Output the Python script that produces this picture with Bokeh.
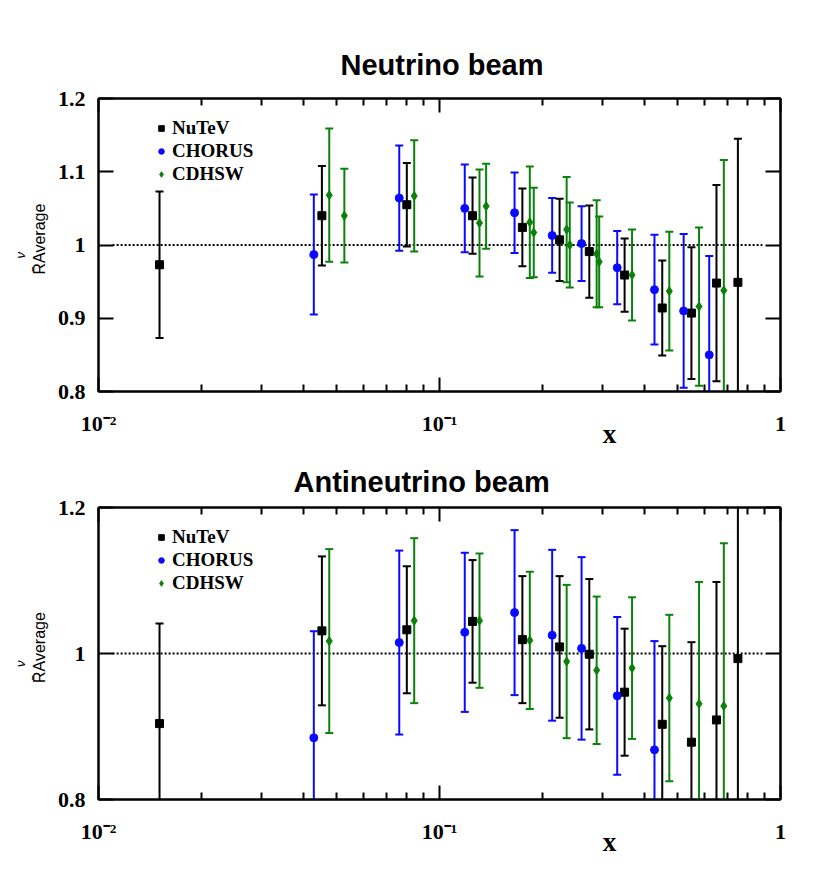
import numpy as np
from bokeh.plotting import figure
from bokeh.models import (Legend, LegendItem, LinearAxis, LogAxis, FixedTicker, Title,
                          ColumnDataSource, CustomJSTickFormatter, Range1d)
from bokeh.layouts import column
from bokeh.embed import file_html
from bokeh.resources import INLINE

SERIF = "Liberation Serif"
SANS = "Liberation Sans"

# ---------------- data: neutrino beam ----------------
nutev_nu_x = [0.0151, 0.0452, 0.0802, 0.125, 0.175, 0.225, 0.275, 0.349, 0.450, 0.548, 0.649, 0.750]
nutev_nu_y = [0.973, 1.040, 1.055, 1.040, 1.024, 1.007, 0.991, 0.959, 0.914, 0.907, 0.948, 0.949]
nutev_nu_e = [0.100, 0.068, 0.057, 0.052, 0.053, 0.056, 0.063, 0.050, 0.065, 0.090, 0.134, 0.196]

chorus_nu_x = [0.0428, 0.0762, 0.1186, 0.166, 0.214, 0.261, 0.332, 0.427, 0.520, 0.618]
chorus_nu_y = [0.987, 1.064, 1.050, 1.044, 1.013, 1.002, 0.969, 0.939, 0.910, 0.850]
chorus_nu_e = [0.082, 0.072, 0.060, 0.055, 0.051, 0.051, 0.050, 0.075, 0.105, 0.135]

cdhsw_nu_x = [0.0475, 0.0526, 0.0843, 0.131, 0.137, 0.184, 0.189, 0.236, 0.241, 0.289,
              0.294, 0.367, 0.472, 0.577, 0.682]
cdhsw_nu_y = [1.068, 1.040, 1.067, 1.030, 1.053, 1.031, 1.017, 1.021, 1.000, 0.988,
              0.977, 0.959, 0.937, 0.916, 0.938]
cdhsw_nu_e = [0.091, 0.064, 0.076, 0.073, 0.058, 0.076, 0.061, 0.072, 0.058, 0.073,
              0.062, 0.062, 0.081, 0.108, 0.178]

# ---------------- data: antineutrino beam ----------------
nutev_nb_x = [0.0151, 0.0452, 0.0802, 0.125, 0.175, 0.225, 0.275, 0.349, 0.450, 0.548, 0.649, 0.750]
nutev_nb_y = [0.904, 1.031, 1.0325, 1.044, 1.019, 1.009, 0.999, 0.947, 0.903, 0.8785, 0.909, 0.993]
nutev_nb_e = [0.137, 0.102, 0.087, 0.084, 0.087, 0.097, 0.103, 0.087, 0.107, 0.137, 0.189, 0.300]

chorus_nb_x = [0.0428, 0.0762, 0.1186, 0.166, 0.214, 0.261, 0.332, 0.427]
chorus_nb_y = [0.8845, 1.015, 1.029, 1.056, 1.025, 1.007, 0.942, 0.868]
chorus_nb_e = [0.146, 0.126, 0.109, 0.113, 0.117, 0.125, 0.108, 0.149]

cdhsw_nb_x = [0.0475, 0.0843, 0.131, 0.184, 0.236, 0.289, 0.367, 0.472, 0.577, 0.682]
cdhsw_nb_y = [1.017, 1.045, 1.045, 1.018, 0.989, 0.977, 0.980, 0.939, 0.931, 0.928]
cdhsw_nb_e = [0.126, 0.113, 0.092, 0.094, 0.105, 0.101, 0.097, 0.114, 0.167, 0.223]

series_names = ["NuTeV", "CHORUS", "CDHSW"]
series_colors = ["black", "#0a0aff", "#0a820a"]
series_markers = ["square", "circle", "diamond"]
series_sizes = [8, 8, 9]

x_major = [0.01, 0.1, 1.0]
x_major_labels = ["10\u207b\u00b2", "10\u207b\u00b9", "1"]
x_minor = [d * k for d in (0.01, 0.1) for k in range(2, 10)]
ref_line_x = [0.011, 0.885]

x_title = "x"
x_title_pos = 0.315          # where the "x" axis title sits along the axis
y_title_main = "R\u0304Average"
y_title_sup = "\u03bd"

FIG_W = 830
BORDER_L = 98
FRAME_W = 682


def style_axis(ax, tick_len, minor_len, show_labels):
    ax.axis_line_width = 2
    ax.axis_line_color = "black"
    ax.major_tick_in = tick_len
    ax.major_tick_out = 0
    ax.minor_tick_in = minor_len
    ax.minor_tick_out = 0
    ax.major_tick_line_width = 2
    ax.minor_tick_line_width = 2
    ax.major_tick_line_color = "black"
    ax.minor_tick_line_color = "black"
    if show_labels:
        ax.major_label_text_font = SERIF
        ax.major_label_text_font_style = "bold"
        ax.major_label_text_font_size = "22px"
        ax.major_label_text_color = "black"
        ax.major_label_standoff = 13
    else:
        ax.major_label_text_color = None
        ax.major_label_text_font_size = "1px"
        ax.major_label_standoff = 0


def make_panel(title, title_offset, title_standoff, height, border_top, frame_h, data, y_ticks):
    p = figure(width=FIG_W, height=height, x_axis_type="log",
               x_range=Range1d(0.01, 1.0), y_range=Range1d(0.8, 1.2),
               output_backend="svg", toolbar_location=None,
               min_border_left=BORDER_L, min_border_right=FIG_W - BORDER_L - FRAME_W,
               min_border_top=border_top,
               min_border_bottom=height - border_top - frame_h)
    p.xgrid.visible = False
    p.ygrid.visible = False
    p.outline_line_color = "black"
    p.outline_line_width = 2
    p.background_fill_color = "white"
    p.border_fill_color = "white"

    p.title.text = title
    p.title.align = "left"
    p.title.offset = title_offset
    p.title.standoff = title_standoff
    p.title.text_font = SANS
    p.title.text_font_style = "bold"
    p.title.text_font_size = "29px"
    p.title.text_color = "black"

    xb = p.xaxis[0]
    xb.ticker = FixedTicker(ticks=x_major, minor_ticks=x_minor)
    style_axis(xb, 14, 7, True)
    xb.formatter = CustomJSTickFormatter(args=dict(labels=x_major_labels),
                                         code="return labels[index];")
    xb.major_label_standoff = 19

    # label-only axis carrying the "x" title at x_title_pos
    xt = LogAxis(ticker=FixedTicker(ticks=[x_title_pos], minor_ticks=[]),
                 formatter=CustomJSTickFormatter(args=dict(labels=[x_title]),
                                                 code="return labels[index];"),
                 major_label_standoff=-20,
                 major_label_text_font=SERIF, major_label_text_font_style="bold",
                 major_label_text_font_size="27px", major_label_text_color="black",
                 axis_line_color=None, major_tick_line_color=None, minor_tick_line_color=None,
                 major_tick_out=0, major_tick_in=0, minor_tick_out=0, minor_tick_in=0)
    p.add_layout(xt, "below")

    yl = p.yaxis[0]
    yl.ticker = FixedTicker(ticks=y_ticks, minor_ticks=[])
    yl.formatter = CustomJSTickFormatter(code="return String(Math.round(tick*10)/10);")
    style_axis(yl, 15, 0, True)

    xa = LogAxis(ticker=FixedTicker(ticks=x_major, minor_ticks=x_minor))
    style_axis(xa, 14, 7, False)
    p.add_layout(xa, "above")
    yr = LinearAxis(ticker=FixedTicker(ticks=y_ticks, minor_ticks=[]))
    style_axis(yr, 15, 0, False)
    p.add_layout(yr, "right")

    # y axis title: R-bar + Average, with superscript nu further out
    p.add_layout(Title(text=y_title_main, align="left", offset=frame_h / 2 - 29.5, standoff=13,
                       text_font=SANS, text_font_style="normal", text_font_size="16px",
                       text_color="black"), "left")
    p.add_layout(Title(text=y_title_sup, align="left", offset=frame_h / 2 - 13.5, standoff=-11,
                       text_font=SANS, text_font_style="italic", text_font_size="13px",
                       text_color="black"), "left")

    # reference line at 1
    p.line(x=ref_line_x, y=[1.0, 1.0], line_color="black", line_width=2, line_dash="2 2")

    renderers = []
    for (xs, ys, es), c, m, s in zip(data, series_colors, series_markers, series_sizes):
        xs = np.array(xs)
        ys = np.array(ys)
        es = np.array(es)
        src = ColumnDataSource(dict(x=xs, y=ys, lo=ys - es, hi=ys + es))
        p.segment(x0="x", y0="lo", x1="x", y1="hi", source=src, line_color=c, line_width=2)
        p.scatter("x", "lo", marker="dash", size=8, line_color=c, line_width=2, source=src)
        p.scatter("x", "hi", marker="dash", size=8, line_color=c, line_width=2, source=src)
        r = p.scatter("x", "y", marker=m, size=s, fill_color=c, line_color=c, source=src)
        renderers.append(r)

    legend = Legend(items=[LegendItem(label=n, renderers=[r]) for n, r in zip(series_names, renderers)],
                    location=(56, frame_h - 18.5 - 69))
    legend.label_text_font = SERIF
    legend.label_text_font_style = "bold"
    legend.label_text_font_size = "19px"
    legend.label_text_color = "black"
    legend.glyph_width = 14
    legend.glyph_height = 14
    legend.label_standoff = 4
    legend.label_height = 23
    legend.spacing = 0
    legend.padding = 0
    legend.margin = 0
    legend.border_line_color = None
    legend.background_fill_alpha = 0
    p.add_layout(legend)
    return p


TOP_H = 451
p1 = make_panel("Neutrino beam", 242, 36, TOP_H, 98, 293,
                [(nutev_nu_x, nutev_nu_y, nutev_nu_e),
                 (chorus_nu_x, chorus_nu_y, chorus_nu_e),
                 (cdhsw_nu_x, cdhsw_nu_y, cdhsw_nu_e)],
                [0.8, 0.9, 1.0, 1.1, 1.2])
p2 = make_panel("Antineutrino beam", 195, 20, 879 - TOP_H, 507 - TOP_H, 292,
                [(nutev_nb_x, nutev_nb_y, nutev_nb_e),
                 (chorus_nb_x, chorus_nb_y, chorus_nb_e),
                 (cdhsw_nb_x, cdhsw_nb_y, cdhsw_nb_e)],
                [0.8, 1.0, 1.2])

layout = column(p1, p2)
open("out.html", "w").write(file_html(layout, INLINE))
